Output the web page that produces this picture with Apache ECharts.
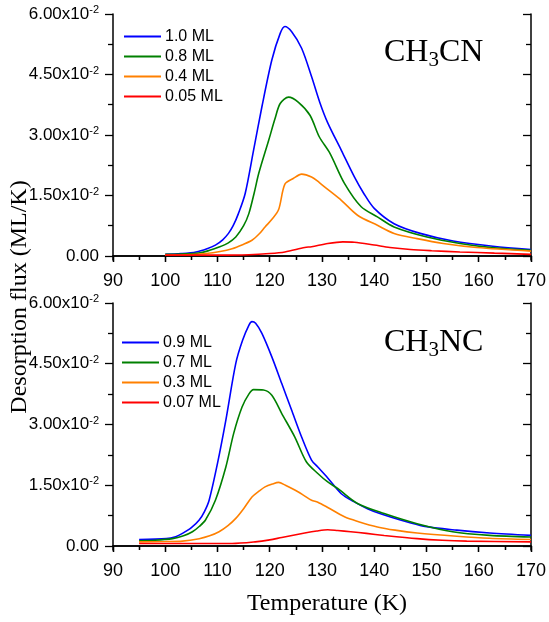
<!DOCTYPE html>
<html>
<head>
    <meta charset="utf-8">
    <title>TPD CH3CN / CH3NC</title>
    <script src="https://cdn.jsdelivr.net/npm/echarts@6/dist/echarts.min.js"></script>
    <style>
        body { margin: 0; background: #fff; }
        #main { width: 549px; height: 622px; }
    </style>
</head>
<body>
    <div id="main"></div>
    <script>
        // values in units of 1e-2 ML/K, temperature in K
        var cnNames = ['1.0 ML', '0.8 ML', '0.4 ML', '0.05 ML'];
        var ncNames = ['0.9 ML', '0.7 ML', '0.3 ML', '0.07 ML'];

        var cn10 = [[100,0.04],[103,0.06],[105.9,0.1],[108,0.18],[109.6,0.27],[111,0.4],[112.1,0.56],[113,0.75],[114,1.05],[115.3,1.55],[116.9,2.62],[118.5,3.7],[120.4,4.86],[122,5.52],[122.9,5.69],[124.2,5.56],[126.1,5.15],[128,4.45],[129.6,3.8],[131.1,3.3],[133.7,2.62],[136.2,1.96],[138,1.55],[140,1.18],[143.8,0.8],[148.8,0.56],[155.1,0.37],[162.7,0.24],[170,0.16]];
        var cn08 = [[100,0.04],[103,0.05],[106.3,0.07],[108.5,0.14],[110.3,0.22],[112,0.32],[113.5,0.47],[115,0.75],[116,1.05],[117,1.55],[117.9,2.05],[119.8,2.87],[121,3.4],[122,3.78],[123.6,3.94],[125.5,3.81],[127.7,3.49],[129.5,2.95],[131.5,2.55],[134.3,1.8],[137.5,1.22],[140.6,0.97],[143.8,0.72],[150.1,0.47],[156.4,0.31],[163,0.2],[170,0.14]];
        var cn04 = [[100,0.02],[104,0.03],[107.8,0.06],[110.5,0.11],[112.8,0.18],[114.8,0.28],[116.6,0.39],[118,0.55],[119.1,0.72],[120.5,0.92],[121.7,1.15],[122.9,1.78],[124.5,1.92],[126.1,2.03],[128,1.96],[129.5,1.82],[131.1,1.65],[133.7,1.38],[136.8,1.01],[140.6,0.76],[143.8,0.56],[148.2,0.43],[153.2,0.31],[159.6,0.21],[170,0.12]];
        var cn005 = [[100,0.02],[110,0.02],[116,0.03],[120,0.06],[122.9,0.1],[126.7,0.21],[128,0.23],[131.1,0.31],[134,0.35],[136.2,0.34],[140,0.27],[143,0.21],[146.9,0.16],[151,0.13],[156.4,0.1],[163,0.07],[170,0.04]];

        var nc09 = [[95,0.16],[100.2,0.18],[102,0.23],[103.3,0.31],[105,0.45],[106.5,0.64],[107.5,0.85],[108.4,1.13],[110,2.04],[111.6,3.11],[113.5,4.51],[114.8,5.08],[116,5.45],[116.6,5.54],[117.3,5.5],[118.5,5.25],[120.4,4.67],[122.3,4.01],[124.2,3.35],[126.1,2.69],[128,2.12],[129.2,1.95],[131.1,1.68],[133.7,1.29],[136,1.1],[138.7,0.92],[141.5,0.78],[145,0.64],[149.4,0.49],[155.8,0.39],[162.1,0.32],[170,0.26]];
        var nc07 = [[95,0.13],[98,0.14],[101.4,0.18],[103.5,0.25],[105.2,0.35],[106.5,0.48],[107.7,0.64],[109.6,1.13],[111.6,1.95],[113.1,2.78],[114.7,3.43],[116,3.75],[116.9,3.86],[118.8,3.85],[120.4,3.72],[122.3,3.27],[124.8,2.69],[127,2.08],[129.2,1.79],[131.1,1.58],[133,1.42],[136.8,1.05],[141.9,0.8],[148.2,0.55],[155,0.35],[162.1,0.26],[170,0.22]];
        var nc03 = [[95,0.1],[100,0.11],[103.3,0.12],[106.5,0.18],[108.5,0.25],[110.3,0.35],[112,0.5],[113.5,0.68],[115,0.92],[116.6,1.21],[118,1.36],[119.1,1.46],[120.5,1.53],[121.7,1.57],[123,1.5],[124.8,1.38],[126.5,1.25],[128,1.13],[129.2,1.08],[131.1,0.95],[134.3,0.72],[137,0.6],[140.6,0.47],[144,0.39],[148.2,0.32],[155.8,0.24],[162,0.19],[170,0.16]];
        var nc007 = [[95,0.06],[105,0.06],[112.8,0.06],[117.2,0.1],[120,0.15],[122.3,0.21],[126.7,0.32],[129,0.37],[131.1,0.4],[133,0.38],[135.5,0.35],[138.5,0.31],[141.9,0.26],[148.2,0.18],[153,0.14],[157.7,0.12],[170,0.1]];

        var yMajor = [0, 1.5, 3, 4.5, 6];
        var yMinor = [0.75, 2.25, 3.75, 5.25];
        var colors = ['#0000ff', '#008000', '#ff8000', '#ff0000'];

        var sans = '"Liberation Sans", Arial, sans-serif';
        var serif = '"Liberation Serif", "Times New Roman", serif';
        var axisLine = { show: true, lineStyle: { color: '#000', width: 1.5 } };
        var tickLine = { color: '#000', width: 1.3 };

        function yLabel(v) {
            if (Math.abs(v) < 1e-9) return '{a|0.00}';
            return '{a|' + v.toFixed(2) + 'x10}{s|-2}';
        }

        function yAxes(gi) {
            var base = { gridIndex: gi, type: 'value', min: -0.1, max: 6, splitLine: { show: false } };
            return [
                Object.assign({}, base, {
                    position: 'left', axisLine: axisLine,
                    axisTick: { customValues: yMajor, length: 8, lineStyle: tickLine },
                    axisLabel: {
                        customValues: yMajor, margin: 14, formatter: yLabel,
                        rich: {
                            a: { fontSize: 17, fontFamily: sans, color: '#000', lineHeight: 19 },
                            s: { fontSize: 11, fontFamily: sans, color: '#000', lineHeight: 11, verticalAlign: 'top' }
                        }
                    }
                }),
                Object.assign({}, base, {
                    position: 'left', axisLine: { show: false },
                    axisTick: { customValues: yMinor, length: 5, lineStyle: tickLine },
                    axisLabel: { show: false }
                }),
                Object.assign({}, base, {
                    position: 'right', axisLine: axisLine,
                    axisTick: { customValues: yMajor, length: 8, inside: true, lineStyle: tickLine },
                    axisLabel: { show: false }
                }),
                Object.assign({}, base, {
                    position: 'right', axisLine: { show: false },
                    axisTick: { customValues: yMinor, length: 5, inside: true, lineStyle: tickLine },
                    axisLabel: { show: false }
                })
            ];
        }

        function xAxes(gi) {
            var base = {
                gridIndex: gi, type: 'value', min: 90, max: 170, interval: 10,
                axisLine: axisLine, splitLine: { show: false },
                minorTick: { show: true, splitNumber: 2, length: 4, lineStyle: tickLine },
                minorSplitLine: { show: false }
            };
            return [
                Object.assign({}, base, {
                    position: 'bottom',
                    axisTick: { length: 6, lineStyle: tickLine },
                    axisLabel: { fontSize: 18, fontFamily: sans, color: '#000', margin: 12 }
                }),
                Object.assign({}, base, {
                    position: 'top',
                    axisTick: { length: 6, inside: true, lineStyle: tickLine },
                    axisLabel: { show: false }
                })
            ];
        }

        function mkSeries(name, data, ci, gi) {
            return {
                name: name, type: 'line', data: data,
                xAxisIndex: gi * 2, yAxisIndex: gi * 4,
                symbol: 'none', smooth: 0.3,
                lineStyle: { color: colors[ci], width: 1.6 },
                itemStyle: { color: colors[ci] },
                animation: false
            };
        }

        function mkLegend(names, left, top) {
            return {
                data: names, orient: 'vertical', left: left, top: top,
                icon: 'rect', itemWidth: 37, itemHeight: 2, itemGap: 3,
                selectedMode: false,
                textStyle: { fontSize: 16, fontFamily: sans, color: '#000', lineHeight: 17, padding: [0, 0, 0, -1] }
            };
        }

        var chart = echarts.init(document.getElementById('main'));
        var option = {
            backgroundColor: '#fff',
            animation: false,
            grid: [
                { left: 113, top: 14, width: 422, height: 246 },
                { left: 113, top: 303, width: 422, height: 247 }
            ],
            xAxis: xAxes(0).concat(xAxes(1)),
            yAxis: yAxes(0).concat(yAxes(1)),
            legend: [mkLegend(cnNames, 119, 23), mkLegend(ncNames, 117, 329)],
            series: [
                mkSeries(cnNames[0], cn10, 0, 0),
                mkSeries(cnNames[1], cn08, 1, 0),
                mkSeries(cnNames[2], cn04, 2, 0),
                mkSeries(cnNames[3], cn005, 3, 0),
                mkSeries(ncNames[0], nc09, 0, 1),
                mkSeries(ncNames[1], nc07, 1, 1),
                mkSeries(ncNames[2], nc03, 2, 1),
                mkSeries(ncNames[3], nc007, 3, 1)
            ],
            graphic: [
                {
                    type: 'text', x: 384, y: 36,
                    style: {
                        text: '{a|CH}{b|3}{a|CN}',
                        rich: {
                            a: { fontSize: 32, fontFamily: serif, color: '#000', lineHeight: 34 },
                            b: { fontSize: 21, fontFamily: serif, color: '#000', lineHeight: 34, padding: [14, 0, 0, 0] }
                        }
                    }
                },
                {
                    type: 'text', x: 384, y: 326,
                    style: {
                        text: '{a|CH}{b|3}{a|NC}',
                        rich: {
                            a: { fontSize: 32, fontFamily: serif, color: '#000', lineHeight: 34 },
                            b: { fontSize: 21, fontFamily: serif, color: '#000', lineHeight: 34, padding: [14, 0, 0, 0] }
                        }
                    }
                },
                {
                    type: 'text', x: 20, y: 297, rotation: Math.PI / 2,
                    style: {
                        text: 'Desorption flux (ML/K)', font: '24px ' + serif, fill: '#000',
                        textAlign: 'center', textVerticalAlign: 'middle'
                    }
                },
                {
                    type: 'text', x: 327, y: 604,
                    style: {
                        text: 'Temperature (K)', font: '24px ' + serif, fill: '#000',
                        textAlign: 'center', textVerticalAlign: 'middle'
                    }
                }
            ]
        };
        chart.setOption(option);
    </script>
</body>
</html>
